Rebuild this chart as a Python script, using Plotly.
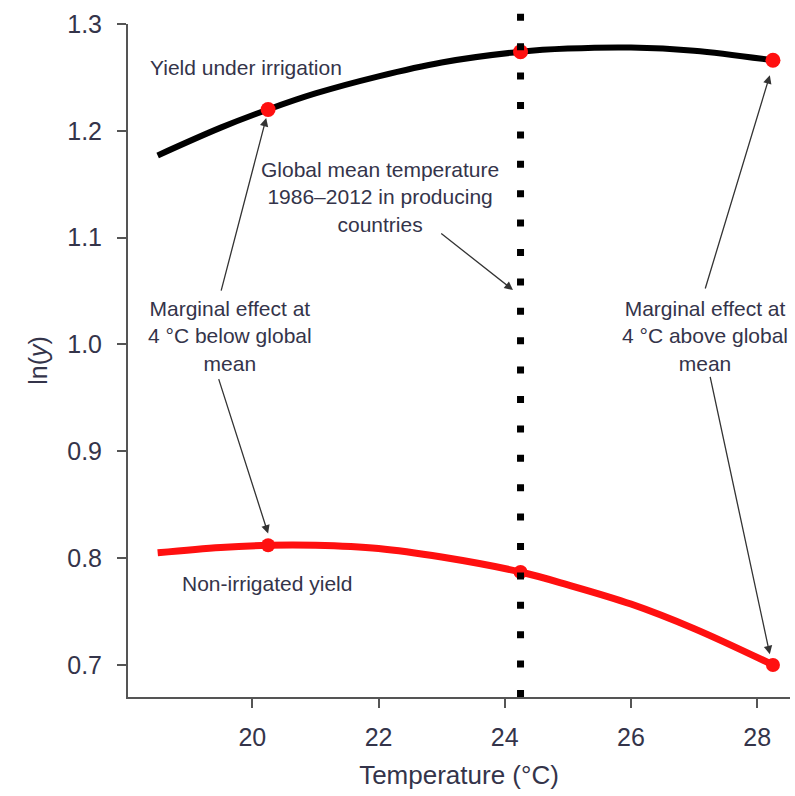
import plotly.graph_objects as go

# Temperature grid (°C) and log-yield readings for each regime
temperature = [18.5, 19.5, 20.25, 21, 22, 23, 24.25, 25, 26, 27, 28.25]
ln_yield_irrigated = [1.177, 1.203, 1.220, 1.235, 1.251, 1.264, 1.274, 1.277, 1.278, 1.275, 1.266]
ln_yield_rainfed = [0.805, 0.810, 0.812, 0.812, 0.809, 0.801, 0.787, 0.775, 0.757, 0.734, 0.700]

# Global mean temperature and the points 4 °C either side of it
global_mean_temp = 24.25
marker_temps = [20.25, 24.25, 28.25]
marker_irrigated = [1.220, 1.274, 1.266]
marker_rainfed = [0.812, 0.787, 0.700]

x_ticks = [20, 22, 24, 26, 28]
y_ticks = [0.7, 0.8, 0.9, 1.0, 1.1, 1.2, 1.3]

TEXT = "#34344a"
AXIS = "#555555"
RED = "#ff1010"

fig = go.Figure()

fig.add_trace(go.Scatter(
    x=temperature, y=ln_yield_irrigated, mode="lines",
    line=dict(color="black", width=6, shape="spline"), hoverinfo="skip"))
fig.add_trace(go.Scatter(
    x=temperature, y=ln_yield_rainfed, mode="lines",
    line=dict(color=RED, width=7, shape="spline"), hoverinfo="skip"))

# vertical dotted line at the global mean temperature
fig.add_shape(type="line", xref="x", yref="paper",
              x0=global_mean_temp, x1=global_mean_temp, y0=0, y1=1.018,
              line=dict(color="black", width=7, dash="7px,22.4px"))

fig.add_trace(go.Scatter(
    x=marker_temps, y=marker_irrigated, mode="markers",
    marker=dict(color=RED, size=15), hoverinfo="skip", cliponaxis=False))
fig.add_trace(go.Scatter(
    x=marker_temps, y=marker_rainfed, mode="markers",
    marker=dict(color=RED, size=14), hoverinfo="skip", cliponaxis=False))

ann_font = dict(family="Liberation Sans, Arial, sans-serif", size=21, color=TEXT)

labels = [
    (18.35, 1.259, "Yield under irrigation", "left"),
    (22.02, 1.138, "Global mean temperature<br>1986–2012 in producing<br>countries", "center"),
    (19.65, 1.008, "Marginal effect at<br>4 °C below global<br>mean", "center"),
    (27.17, 1.008, "Marginal effect at<br>4 °C above global<br>mean", "center"),
    (18.85, 0.776, "Non-irrigated yield", "left"),
]
for x, y, txt, anchor in labels:
    fig.add_annotation(x=x, y=y, text=txt, showarrow=False, xanchor=anchor,
                       yanchor="middle", align="center", font=ann_font)

# arrows: (tail x, tail y, head x, head y)
arrows = [
    (22.97, 1.105, 24.13, 1.051),
    (19.50, 1.049, 20.22, 1.212),
    (19.46, 0.969, 20.25, 0.823),
    (27.17, 1.051, 28.20, 1.252),
    (27.25, 0.971, 28.20, 0.710),
]
for tx, ty, hx, hy in arrows:
    fig.add_annotation(x=hx, y=hy, ax=tx, ay=ty, xref="x", yref="y",
                       axref="x", ayref="y", text="", showarrow=True,
                       arrowhead=2, arrowsize=1.3, arrowwidth=1.3,
                       arrowcolor="#333333")

fig.update_layout(
    width=795, height=796,
    margin=dict(l=128, r=5, t=24, b=99),
    paper_bgcolor="white", plot_bgcolor="white",
    showlegend=False,
    font=dict(family="Liberation Sans, Arial, sans-serif", color=TEXT),
)
fig.update_xaxes(
    range=[18.03, 28.52], tickvals=x_ticks, ticktext=[str(v) for v in x_ticks],
    showgrid=False, zeroline=False, showline=True, linecolor=AXIS, linewidth=2,
    ticks="outside", ticklen=9, tickwidth=1.5, tickcolor=AXIS,
    tickfont=dict(size=25, color=TEXT), ticklabelstandoff=8,
    title=dict(text="Temperature (°C)", font=dict(size=26, color=TEXT), standoff=16),
)
fig.update_yaxes(
    range=[0.67, 1.3], tickvals=y_ticks, ticktext=[f"{v:.1f}" for v in y_ticks],
    showgrid=False, zeroline=False, showline=True, linecolor=AXIS, linewidth=2,
    ticks="outside", ticklen=9, tickwidth=1.5, tickcolor=AXIS,
    tickfont=dict(size=25, color=TEXT), ticklabelstandoff=10,
    title=dict(text="ln(<i>y</i>)", font=dict(size=25, color=TEXT), standoff=12),
)

fig.write_html("out.html")
